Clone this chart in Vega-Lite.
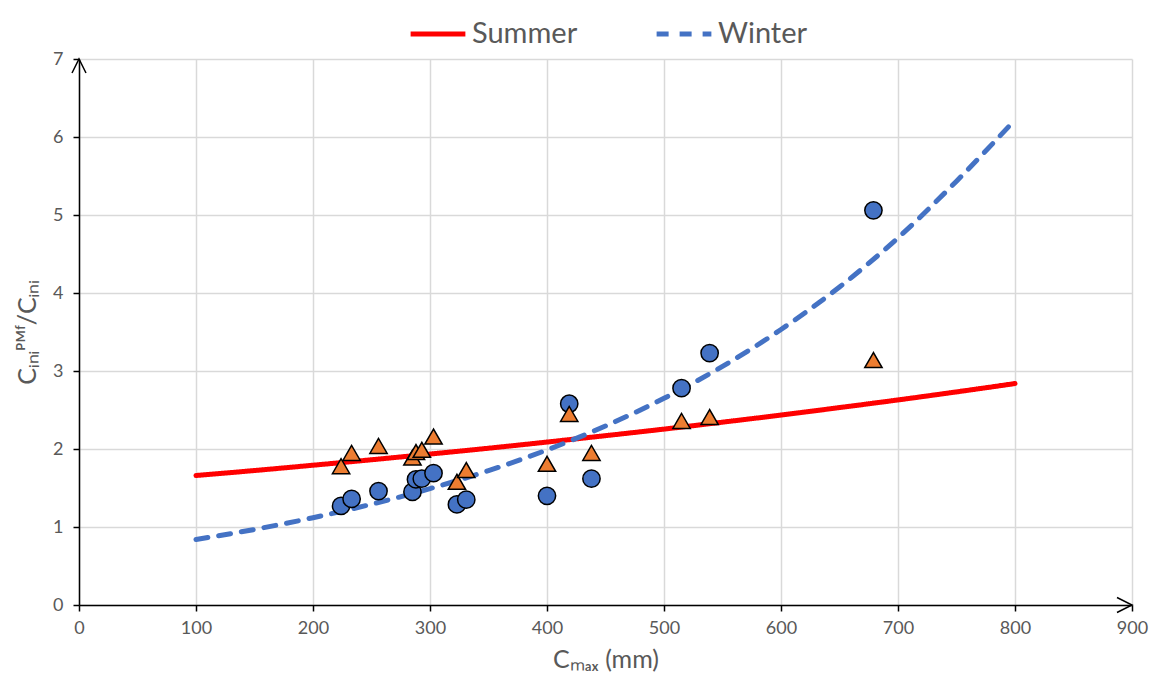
{
  "$schema": "https://vega.github.io/schema/vega-lite/v6.json",
  "autosize": {"type": "none"},
  "width": 1053,
  "height": 546,
  "padding": {"left": 79, "top": 59, "right": 21, "bottom": 79},
  "background": "white",
  "config": {
    "font": "Lato",
    "view": {"stroke": null},
    "axis": {
      "labelFont": "Lato",
      "labelFontSize": 18,
      "labelColor": "#595959",
      "titleFont": "Lato",
      "titleFontWeight": "normal",
      "titleColor": "#595959",
      "gridColor": "#d9d9d9",
      "gridWidth": 1.5,
      "domainColor": "black",
      "domainWidth": 1.5,
      "tickColor": "black",
      "tickWidth": 1.5,
      "tickSize": 6
    }
  },
  "datasets": {
    "pts": [
      {"cmax": 224, "series": "Winter", "ratio": 1.27},
      {"cmax": 233, "series": "Winter", "ratio": 1.36},
      {"cmax": 256, "series": "Winter", "ratio": 1.46},
      {"cmax": 285, "series": "Winter", "ratio": 1.45},
      {"cmax": 288, "series": "Winter", "ratio": 1.61},
      {"cmax": 293, "series": "Winter", "ratio": 1.62},
      {"cmax": 303, "series": "Winter", "ratio": 1.69},
      {"cmax": 323, "series": "Winter", "ratio": 1.29},
      {"cmax": 331, "series": "Winter", "ratio": 1.35},
      {"cmax": 400, "series": "Winter", "ratio": 1.40},
      {"cmax": 419, "series": "Winter", "ratio": 2.58},
      {"cmax": 438, "series": "Winter", "ratio": 1.62},
      {"cmax": 515, "series": "Winter", "ratio": 2.78},
      {"cmax": 539, "series": "Winter", "ratio": 3.23},
      {"cmax": 679, "series": "Winter", "ratio": 5.06},
      {"cmax": 224, "series": "Summer", "ratio": 1.78},
      {"cmax": 233, "series": "Summer", "ratio": 1.95},
      {"cmax": 256, "series": "Summer", "ratio": 2.04},
      {"cmax": 285, "series": "Summer", "ratio": 1.89},
      {"cmax": 288, "series": "Summer", "ratio": 1.96},
      {"cmax": 293, "series": "Summer", "ratio": 1.99},
      {"cmax": 303, "series": "Summer", "ratio": 2.16},
      {"cmax": 323, "series": "Summer", "ratio": 1.58},
      {"cmax": 331, "series": "Summer", "ratio": 1.73},
      {"cmax": 400, "series": "Summer", "ratio": 1.81},
      {"cmax": 419, "series": "Summer", "ratio": 2.45},
      {"cmax": 438, "series": "Summer", "ratio": 1.95},
      {"cmax": 515, "series": "Summer", "ratio": 2.36},
      {"cmax": 539, "series": "Summer", "ratio": 2.41},
      {"cmax": 679, "series": "Summer", "ratio": 3.14}
    ],
    "fit": [
      {"cmax": 100, "season": "Summer", "ratio": 1.66},
      {"cmax": 150, "season": "Summer", "ratio": 1.724},
      {"cmax": 200, "season": "Summer", "ratio": 1.792},
      {"cmax": 250, "season": "Summer", "ratio": 1.862},
      {"cmax": 300, "season": "Summer", "ratio": 1.935},
      {"cmax": 350, "season": "Summer", "ratio": 2.01},
      {"cmax": 400, "season": "Summer", "ratio": 2.089},
      {"cmax": 450, "season": "Summer", "ratio": 2.171},
      {"cmax": 500, "season": "Summer", "ratio": 2.255},
      {"cmax": 550, "season": "Summer", "ratio": 2.344},
      {"cmax": 600, "season": "Summer", "ratio": 2.435},
      {"cmax": 650, "season": "Summer", "ratio": 2.531},
      {"cmax": 700, "season": "Summer", "ratio": 2.629},
      {"cmax": 750, "season": "Summer", "ratio": 2.732},
      {"cmax": 800, "season": "Summer", "ratio": 2.839},
      {"cmax": 100, "season": "Winter", "ratio": 0.84},
      {"cmax": 150, "season": "Winter", "ratio": 0.969},
      {"cmax": 200, "season": "Winter", "ratio": 1.119},
      {"cmax": 250, "season": "Winter", "ratio": 1.292},
      {"cmax": 300, "season": "Winter", "ratio": 1.492},
      {"cmax": 350, "season": "Winter", "ratio": 1.722},
      {"cmax": 400, "season": "Winter", "ratio": 1.988},
      {"cmax": 450, "season": "Winter", "ratio": 2.295},
      {"cmax": 500, "season": "Winter", "ratio": 2.65},
      {"cmax": 550, "season": "Winter", "ratio": 3.059},
      {"cmax": 600, "season": "Winter", "ratio": 3.532},
      {"cmax": 650, "season": "Winter", "ratio": 4.077},
      {"cmax": 700, "season": "Winter", "ratio": 4.707},
      {"cmax": 750, "season": "Winter", "ratio": 5.434},
      {"cmax": 800, "season": "Winter", "ratio": 6.22}
    ]
  },
  "encoding": {
    "x": {
      "field": "cmax",
      "type": "quantitative",
      "scale": {"domain": [0, 900], "nice": false, "zero": true},
      "axis": {
        "values": [0, 100, 200, 300, 400, 500, 600, 700, 800, 900],
        "format": "d",
        "title": "Cₘₐₓ (mm)",
        "titleFontSize": 25,
        "titlePadding": 10,
        "labelPadding": 8,
        "labelFlush": false
      }
    },
    "y": {
      "field": "ratio",
      "type": "quantitative",
      "scale": {"domain": [0, 7], "nice": false},
      "axis": {
        "values": [0, 1, 2, 3, 4, 5, 6, 7],
        "format": "d",
        "title": "Cᵢₙᵢᴾᴹᶠ/Cᵢₙᵢ",
        "titleFontSize": 25,
        "titlePadding": 12,
        "labelPadding": 10,
        "labelFlush": false
      }
    }
  },
  "layer": [
    {
      "data": {"name": "fit"},
      "mark": {"type": "line", "strokeWidth": 5, "strokeCap": "round", "interpolate": "monotone"},
      "encoding": {
        "stroke": {
          "field": "season",
          "type": "nominal",
          "scale": {"domain": ["Summer", "Winter"], "range": ["#ff0000", "#4472c4"]},
          "legend": {
            "title": null,
            "orient": "none",
            "direction": "horizontal",
            "legendX": 329,
            "legendY": -55,
            "symbolType": "stroke",
            "symbolSize": 3000,
            "symbolStrokeWidth": 5,
            "labelFontSize": 29,
            "labelFont": "Lato",
            "labelColor": "#595959",
            "labelOffset": 4,
            "columnPadding": 68
          }
        },
        "strokeDash": {
          "field": "season",
          "type": "nominal",
          "scale": {"domain": ["Summer", "Winter"], "range": [[1, 0], [12, 11]]},
          "legend": {
            "title": null,
            "orient": "none",
            "direction": "horizontal",
            "legendX": 329,
            "legendY": -55,
            "symbolType": "stroke",
            "symbolSize": 3000,
            "symbolStrokeWidth": 5,
            "labelFontSize": 29,
            "labelFont": "Lato",
            "labelColor": "#595959",
            "labelOffset": 4,
            "columnPadding": 68
          }
        }
      }
    },
    {
      "data": {"name": "pts"},
      "mark": {"type": "point", "filled": true, "opacity": 1, "stroke": "black", "strokeWidth": 1.5, "size": 300},
      "encoding": {
        "fill": {
          "field": "series",
          "type": "nominal",
          "scale": {"domain": ["Winter", "Summer"], "range": ["#4472c4", "#ed7d31"]},
          "legend": null
        },
        "shape": {
          "field": "series",
          "type": "nominal",
          "scale": {"domain": ["Winter", "Summer"], "range": ["circle", "triangle-up"]},
          "legend": null
        }
      }
    },
    {
      "data": {"values": [{"cmax": 900, "ratio": 0}]},
      "mark": {"type": "point", "shape": "M-2,-1L0,0L-2,1", "filled": false, "stroke": "black", "strokeWidth": 1.5, "size": 225, "opacity": 1}
    },
    {
      "data": {"values": [{"cmax": 0, "ratio": 7}]},
      "mark": {"type": "point", "shape": "M-1,2L0,0L1,2", "filled": false, "stroke": "black", "strokeWidth": 1.5, "size": 196, "opacity": 1}
    }
  ]
}
